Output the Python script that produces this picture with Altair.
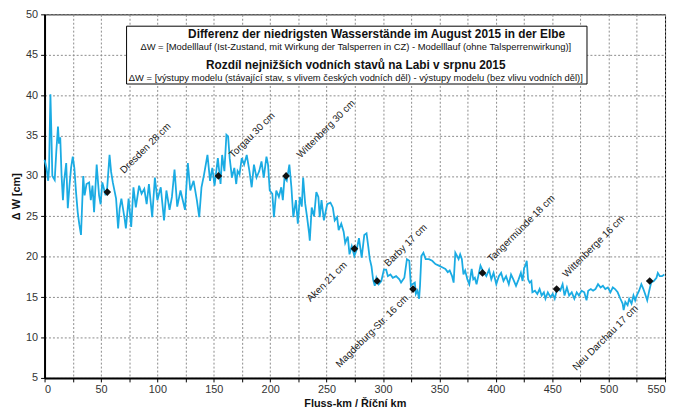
import altair as alt
import pandas as pd

# ---- data ----
km = [0.0, 1.7, 3.2, 4.0, 5.2, 6.1, 6.9, 9.0, 10.4, 11.9, 12.8, 13.9, 15.1, 16.3, 17.4, 19.2, 20.6, 22.1,
      23.5, 25.0, 26.4, 27.9, 29.4, 30.8, 32.3, 34.3, 35.5, 37.2, 39.5, 41.0, 42.5, 43.9, 46.2, 48.3, 49.7,
      51.2, 54.1, 55.5, 57.6, 59.0, 60.5, 63.4, 65.2, 66.6, 68.1, 71.0, 72.1, 74.5, 76.8, 78.8, 80.9, 83.8,
      86.0, 88.4, 90.5, 92.5, 95.4, 97.8, 100.0, 103.0, 105.9, 108.0, 110.8, 112.9, 115.2, 117.6, 120.5,
      122.5, 124.5, 127.0, 129.2, 132.1, 135.0, 137.1, 139.1, 141.4, 144.4, 146.7, 148.7, 150.7, 153.6,
      156.0, 157.4, 159.4, 161.2, 162.7, 164.1, 166.1, 168.2, 169.9, 171.1, 172.8, 174.8, 176.9, 179.2,
      181.6, 183.6, 185.6, 187.9, 190.3, 192.3, 194.3, 196.7, 198.1, 199.6, 201.9, 203.3, 205.4, 207.7,
      209.8, 211.2, 212.7, 214.7, 217.0, 218.8, 220.5, 222.8, 224.5, 226.3, 228.0, 229.2, 231.0, 232.7,
      234.5, 235.1, 236.8, 238.9, 240.9, 242.7, 243.9, 245.5, 247.6, 250.5, 253.4, 255.5, 257.2, 259.3,
      260.7, 263.0, 265.1, 266.5, 268.8, 270.3, 272.3, 274.6, 276.7, 278.7, 281.1, 283.4, 285.4, 286.9,
      288.3, 289.8, 291.2, 292.7, 294.1, 296.2, 298.5, 300.8, 302.8, 304.3, 306.6, 308.7, 311.6, 314.5,
      316.0, 318.9, 321.2, 323.3, 324.7, 326.2, 328.2, 329.1, 330.5, 332.0, 332.8, 334.0, 335.8, 337.8,
      340.7, 343.6, 346.5, 349.5, 352.4, 355.3, 357.4, 359.1, 361.2, 362.6, 364.1, 365.6, 367.0, 368.4,
      369.9, 371.3, 372.8, 374.8, 376.5, 378.6, 380.0, 381.4, 382.9, 385.2, 386.4, 388.7, 391.6, 394.0,
      396.0, 398.0, 400.4, 402.7, 404.7, 406.8, 409.1, 411.5, 413.5, 415.5, 417.9, 420.2, 422.2, 423.7,
      425.1, 426.5, 427.4, 428.6, 430.0, 431.5, 432.4, 434.7, 436.8, 438.8, 440.6, 442.6, 444.0, 446.1,
      448.4, 450.4, 452.2, 454.3, 457.1, 459.2, 460.9, 463.0, 465.0, 467.3, 469.6, 471.7, 473.7, 476.0,
      478.4, 480.4, 481.9, 484.2, 486.2, 488.3, 490.6, 492.9, 494.9, 497.0, 499.3, 501.6, 503.7, 505.7,
      508.0, 510.4, 512.4, 513.3, 514.8, 516.8, 518.2, 520.3, 522.0, 523.5, 524.9, 527.0, 529.0, 530.8,
      532.8, 534.2, 536.0, 537.7, 540.0, 542.4, 543.6, 545.3, 547.3, 549.4]
dw = [32.0, 31.0, 29.4, 31.0, 40.1, 35.0, 30.0, 29.5, 33.0, 36.1, 34.0, 34.8, 30.0, 27.0, 29.5, 31.6, 26.0, 28.8,
      31.0, 32.4, 31.0, 28.0, 25.5, 24.0, 22.7, 30.0, 27.6, 29.0, 29.2, 27.0, 28.8, 25.5, 31.4, 27.6, 26.5,
      29.2, 27.6, 28.5, 32.6, 30.5, 29.2, 27.2, 23.5, 26.0, 27.2, 24.7, 23.5, 27.2, 23.7, 28.6, 26.1, 28.8,
      27.8, 28.4, 26.5, 29.0, 24.9, 29.8, 27.0, 28.6, 24.5, 28.2, 25.8, 27.4, 30.8, 26.2, 28.2,
      27.0, 25.8, 31.6, 28.2, 29.4, 27.0, 24.9, 28.6, 30.2, 32.6, 29.4, 31.0, 28.8, 32.2,
      29.0, 32.6, 30.6, 35.1, 34.9, 32.2, 29.8, 31.0, 29.0, 30.6, 30.2, 32.2, 31.4, 32.6,
      30.6, 28.6, 31.4, 29.8, 30.6, 31.8, 29.8, 32.4, 31.4, 28.2, 27.8, 24.9, 28.2, 27.4,
      28.6, 27.0, 29.8, 29.4, 31.4, 28.6, 24.9, 27.0, 24.1, 27.4, 26.2, 29.8, 26.6, 24.9,
      22.9, 22.0, 26.1, 25.0, 28.0, 27.4, 24.9, 27.0, 24.5, 26.5, 26.7, 26.1, 24.5, 24.9,
      23.3, 24.1, 23.1, 21.7, 22.5, 20.3, 21.3, 20.1, 20.9, 22.3, 19.9, 22.7, 22.9, 21.3,
      19.7, 18.8, 17.2, 16.4, 17.4, 16.6, 17.0, 18.4, 18.4, 17.6, 17.8, 17.4, 17.6, 17.2,
      16.8, 17.4, 19.7, 19.5, 16.4, 16.6, 16.8, 15.4, 15.8, 14.8, 16.4, 20.1, 20.5, 19.7,
      19.7, 19.5, 19.1, 18.9, 18.7, 18.5, 18.1, 18.3, 17.6, 16.8, 20.5, 20.1, 19.7, 20.3,
      19.7, 17.8, 18.3, 17.2, 16.6, 18.5, 17.2, 17.4, 16.6, 18.1, 18.9, 18.2, 17.6, 18.4,
      17.2, 18.0, 16.6, 17.6, 18.0, 17.0, 17.6, 16.6, 17.8, 17.2, 16.4, 17.2, 18.0, 17.0,
      18.6, 19.0, 19.5, 17.2, 16.8, 17.0, 15.6, 15.8, 15.4, 16.0, 15.2, 15.6, 14.8, 15.6,
      15.0, 15.4, 14.8, 16.0, 15.8, 16.6, 15.2, 16.2, 15.2, 15.6, 14.8, 15.6, 15.2, 15.8,
      15.6, 14.6, 15.8, 16.0, 15.8, 16.0, 16.6, 16.2, 16.4, 16.0, 16.2, 15.6, 16.2, 16.0,
      15.6, 14.8, 14.2, 13.4, 14.4, 14.0, 14.8, 14.2, 15.2, 14.6, 15.2, 15.8, 16.6, 16.0,
      15.2, 14.6, 15.8, 16.8, 17.0, 17.4, 18.0, 17.6, 17.6, 17.8]

station_labels = ["Dresden 28 cm", "Torgau 30 cm", "Wittenberg 30 cm", "Aken 21 cm", "Barby 17 cm",
                  "Magdeburg-Str. 16 cm", "Tangermünde 18 cm", "Wittenberge 16 cm", "Neu Darchau 17 cm"]
station_km = [55.6, 154.1, 214.1, 274.7, 294.8, 326.6, 388.2, 453.9, 536.4]
station_dw = [28, 30, 30, 21, 17, 16, 18, 16, 17]

title_lines = [
    "Differenz der niedrigsten Wasserstände im August 2015 in der Elbe",
    "ΔW = [Modelllauf (Ist-Zustand, mit Wirkung der Talsperren in CZ) - Modelllauf (ohne Talsperrenwirkung)]",
    "Rozdíl nejnižších vodních stavů na Labi v srpnu 2015",
    "ΔW = [výstupy modelu (stávající stav, s vlivem českých vodních děl) - výstupy modelu (bez vlivu vodních děl)]",
]

# ---- styling / layout ----
W, H = 628, 368
FONT = "Liberation Sans"
label_align = ["left", "left", "left", "right", "left", "right", "left", "left", "right"]
label_dx = [25, 23, 23, -17, 18, -10, 14, 15, -28]
label_dy = [-4, -5, -5, 4, -5, 1, -4, -4, 9]
title_x = [336, 315, 315, 315]
title_y = [20, 33, 51, 64]
title_size = [12, 9.5, 12, 9.5]
title_weight = ["bold", "normal", "bold", "normal"]

line_df = pd.DataFrame({"km": km, "dw": dw})
st_df = pd.DataFrame({"km": station_km, "dw": station_dw, "label": station_labels})
dummy = pd.DataFrame({"a": [0]})

x_enc = alt.X("km:Q", scale=alt.Scale(domain=[0, 550], nice=False, zero=False),
              axis=alt.Axis(values=list(range(0, 551, 25)),
                            labelExpr="datum.value % 50 == 0 ? datum.label : ''",
                            title="Fluss-km / Říční km", tickSize=4, labelPadding=2,
                            titlePadding=3))
y_enc = alt.Y("dw:Q", scale=alt.Scale(domain=[5, 50], nice=False, zero=False),
              axis=alt.Axis(values=list(range(5, 51, 5)), title="Δ W [cm]", tickSize=4,
                            labelPadding=3, titlePadding=4))

line = alt.Chart(line_df).mark_line(color="#1AABE3", strokeWidth=1.8).encode(x=x_enc, y=y_enc)
pts = alt.Chart(st_df).mark_point(shape="diamond", filled=True, color="#111111", size=60,
                                  opacity=1).encode(x=x_enc, y=y_enc)

label_layers = []
for i in range(len(station_labels)):
    label_layers.append(
        alt.Chart(st_df.iloc[[i]]).mark_text(
            angle=315, align=label_align[i], baseline="middle", dx=label_dx[i], dy=label_dy[i],
            font=FONT, fontSize=10, color="#222222"
        ).encode(x=x_enc, y=y_enc, text="label:N")
    )

box = alt.Chart(dummy).mark_rect(fill="white", stroke="black", strokeWidth=1).encode(
    x=alt.value(83), x2=alt.value(549), y=alt.value(12), y2=alt.value(70.5))

title_layers = []
for i, t in enumerate(title_lines):
    title_layers.append(
        alt.Chart(dummy).mark_text(text=t, align="center", baseline="middle", font=FONT,
                                   fontSize=title_size[i], fontWeight=title_weight[i],
                                   color="#111111").encode(
            x=alt.value(title_x[i]), y=alt.value(title_y[i]))
    )

chart = alt.layer(line, box, *title_layers, pts, *label_layers).properties(
    width=W, height=H,
    autosize=alt.AutoSizeParams(type="none"),
    padding={"left": 37, "top": 4, "right": 4, "bottom": 28},
).configure_axis(
    domainColor="black", domainWidth=2, tickColor="black", tickWidth=1,
    gridColor="#8a8a8a", gridDash=[2, 2], gridWidth=1,
    labelFont=FONT, labelFontSize=11, labelColor="#333333",
    titleFont=FONT, titleFontSize=11, titleFontWeight="bold", titleColor="#111111",
).configure_view(stroke="black", strokeWidth=1)

chart.save("out.html", embed_options={"renderer": "svg", "actions": False})
